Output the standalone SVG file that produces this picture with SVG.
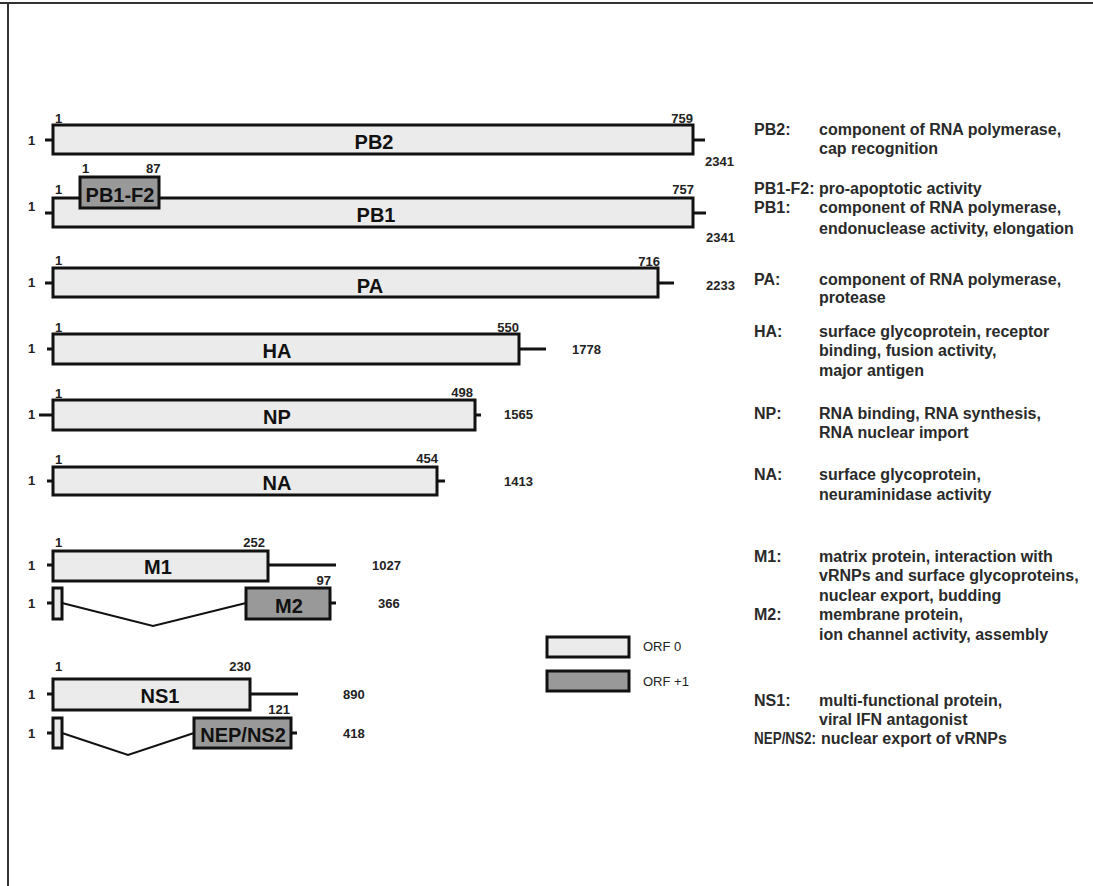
<svg xmlns="http://www.w3.org/2000/svg" width="1093" height="886" viewBox="0 0 1093 886">
<style>
.orf0{fill:#ebebeb;stroke:#111;stroke-width:3}
.orf1{fill:#999;stroke:#111;stroke-width:3}
.ln{stroke:#111;stroke-width:3;fill:none}
.sp{stroke:#111;stroke-width:2;fill:none}
.lbl{font-family:"Liberation Sans",Arial,sans-serif;font-size:20px;font-weight:bold;fill:#111;text-anchor:middle}
.num{font-family:"Liberation Sans",Arial,sans-serif;font-size:13px;font-weight:bold;fill:#222}
.leg{font-family:"Liberation Sans",Arial,sans-serif;font-size:13px;fill:#222}
.desc{font-family:"Liberation Sans",Arial,sans-serif;font-size:16px;font-weight:bold;fill:#2a2a2a}
.end{text-anchor:end}
</style>
<rect x="0" y="0" width="1093" height="886" fill="#fff"/>
<path d="M0 3 H1093 M8 3 V886" stroke="#333" stroke-width="2" fill="none"/>

<g id="connectors">
<path class="ln" d="M45 140 H53 M693 140 H705"/>
<path class="ln" d="M45 213 H53 M693 213 H706"/>
<path class="ln" d="M45 283 H53 M658 283 H674"/>
<path class="ln" d="M47 349 H53 M519 349 H546"/>
<path class="ln" d="M39 415 H53 M475 415 H481"/>
<path class="ln" d="M47 481 H53 M437 481 H445"/>
<path class="ln" d="M47 565 H53 M268 565 H336"/>
<path class="ln" d="M47 603 H53 M330 603 H336"/>
<path class="sp" d="M62 603 L153 626 L246 603"/>
<path class="ln" d="M47 694 H53 M250 694 H298"/>
<path class="ln" d="M47 733 H53 M291 733 H297"/>
<path class="sp" d="M62 733 L128 755 L194 733"/>
</g>

<g id="PB2">
<rect class="orf0" x="53" y="125" width="640" height="29"/>
<text class="lbl" x="374" y="149">PB2</text>
<text class="num" x="28" y="145">1</text>
<text class="num" x="55" y="123">1</text>
<text class="num end" x="693" y="123">759</text>
<text class="num" x="705" y="166">2341</text>
</g>

<g id="PB1">
<rect class="orf0" x="53" y="198" width="640" height="29"/>
<text class="lbl" x="376" y="222">PB1</text>
<text class="num" x="28" y="211">1</text>
<text class="num" x="55" y="194">1</text>
<text class="num end" x="694" y="194">757</text>
<text class="num" x="706" y="242">2341</text>
</g>

<g id="PB1-F2">
<rect class="orf1" x="80" y="177" width="79" height="31"/>
<text class="lbl" x="120" y="202">PB1-F2</text>
<text class="num" x="82" y="173">1</text>
<text class="num" x="146" y="173">87</text>
</g>

<g id="PA">
<rect class="orf0" x="53" y="268" width="605" height="29"/>
<text class="lbl" x="370" y="293">PA</text>
<text class="num" x="28" y="287">1</text>
<text class="num" x="55" y="265">1</text>
<text class="num end" x="660" y="266">716</text>
<text class="num" x="706" y="290">2233</text>
</g>

<g id="HA">
<rect class="orf0" x="53" y="334" width="466" height="30"/>
<text class="lbl" x="277" y="358">HA</text>
<text class="num" x="28" y="353">1</text>
<text class="num" x="55" y="332">1</text>
<text class="num end" x="519" y="332">550</text>
<text class="num" x="572" y="354">1778</text>
</g>

<g id="NP">
<rect class="orf0" x="53" y="400" width="422" height="30"/>
<text class="lbl" x="277" y="424">NP</text>
<text class="num" x="28" y="419">1</text>
<text class="num" x="55" y="398">1</text>
<text class="num end" x="473" y="397">498</text>
<text class="num" x="504" y="419">1565</text>
</g>

<g id="NA">
<rect class="orf0" x="53" y="467" width="384" height="28"/>
<text class="lbl" x="277" y="490">NA</text>
<text class="num" x="28" y="485">1</text>
<text class="num" x="55" y="464">1</text>
<text class="num end" x="438" y="463">454</text>
<text class="num" x="504" y="486">1413</text>
</g>

<g id="M1">
<rect class="orf0" x="53" y="551" width="215" height="30"/>
<text class="lbl" x="158" y="574">M1</text>
<text class="num" x="28" y="570">1</text>
<text class="num" x="55" y="547">1</text>
<text class="num end" x="265" y="547">252</text>
<text class="num" x="372" y="570">1027</text>
</g>

<g id="M2">
<rect class="orf0" x="53" y="588" width="9" height="31"/>
<rect class="orf1" x="246" y="588" width="84" height="31"/>
<text class="lbl" x="289" y="613">M2</text>
<text class="num" x="28" y="608">1</text>
<text class="num end" x="331" y="585">97</text>
<text class="num" x="378" y="608">366</text>
</g>

<g id="NS1">
<rect class="orf0" x="53" y="679" width="197" height="31"/>
<text class="lbl" x="160" y="703">NS1</text>
<text class="num" x="28" y="699">1</text>
<text class="num" x="55" y="671">1</text>
<text class="num end" x="251" y="671">230</text>
<text class="num" x="343" y="699">890</text>
</g>

<g id="NEP-NS2">
<rect class="orf0" x="53" y="718" width="9" height="30"/>
<rect class="orf1" x="194" y="718" width="97" height="30"/>
<text class="lbl" x="243" y="742">NEP/NS2</text>
<text class="num" x="28" y="738">1</text>
<text class="num end" x="290" y="714">121</text>
<text class="num" x="343" y="738">418</text>
</g>

<g id="legend">
<rect class="orf0" x="547" y="637" width="82" height="20"/>
<text class="leg" x="643" y="651">ORF 0</text>
<rect class="orf1" x="547" y="671" width="82" height="20"/>
<text class="leg" x="643" y="686">ORF +1</text>
</g>

<g id="descriptions">
<text class="desc" x="754" y="135">PB2:</text>
<text class="desc" x="819" y="135">component of RNA polymerase,</text>
<text class="desc" x="819" y="154">cap recognition</text>
<text class="desc" x="754" y="194">PB1-F2:</text>
<text class="desc" x="819" y="194">pro-apoptotic activity</text>
<text class="desc" x="754" y="213">PB1:</text>
<text class="desc" x="819" y="213">component of RNA polymerase,</text>
<text class="desc" x="819" y="234">endonuclease activity, elongation</text>
<text class="desc" x="754" y="285">PA:</text>
<text class="desc" x="819" y="285">component of RNA polymerase,</text>
<text class="desc" x="819" y="303">protease</text>
<text class="desc" x="754" y="337">HA:</text>
<text class="desc" x="819" y="337">surface glycoprotein, receptor</text>
<text class="desc" x="819" y="356">binding, fusion activity,</text>
<text class="desc" x="819" y="376">major antigen</text>
<text class="desc" x="754" y="419">NP:</text>
<text class="desc" x="819" y="419">RNA binding, RNA synthesis,</text>
<text class="desc" x="819" y="438">RNA nuclear import</text>
<text class="desc" x="754" y="480">NA:</text>
<text class="desc" x="819" y="480">surface glycoprotein,</text>
<text class="desc" x="819" y="500">neuraminidase activity</text>
<text class="desc" x="754" y="562">M1:</text>
<text class="desc" x="819" y="562">matrix protein, interaction with</text>
<text class="desc" x="819" y="581">vRNPs and surface glycoproteins,</text>
<text class="desc" x="819" y="601">nuclear export, budding</text>
<text class="desc" x="754" y="620">M2:</text>
<text class="desc" x="819" y="620">membrane protein,</text>
<text class="desc" x="819" y="640">ion channel activity, assembly</text>
<text class="desc" x="754" y="706">NS1:</text>
<text class="desc" x="819" y="706">multi-functional protein,</text>
<text class="desc" x="819" y="725">viral IFN antagonist</text>
<text class="desc" x="754" y="744" textLength="62" lengthAdjust="spacingAndGlyphs">NEP/NS2:</text>
<text class="desc" x="821" y="744">nuclear export of vRNPs</text>
</g>
</svg>
